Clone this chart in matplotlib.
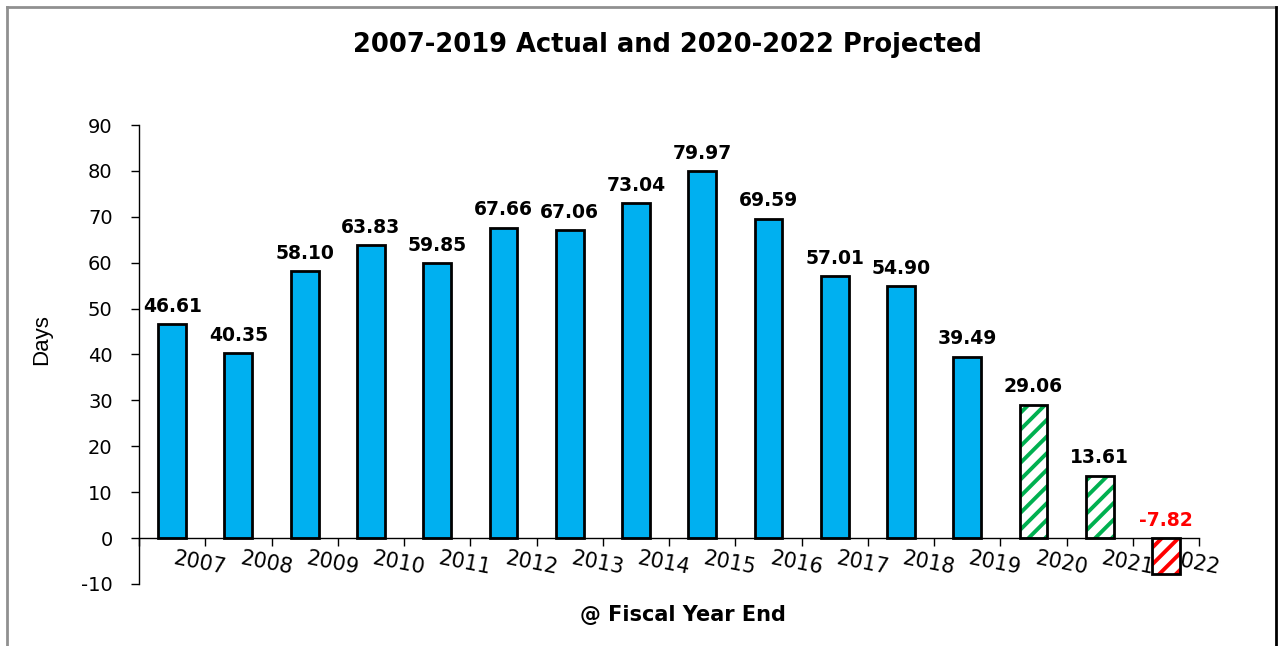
#!/usr/bin/env python3
"""Days metric by fiscal year: actual bars plus hatched projections."""

import matplotlib
matplotlib.use('Agg')
import matplotlib.pyplot as plt
from matplotlib import font_manager
from matplotlib.lines import Line2D

years = ['2007', '2008', '2009', '2010', '2011', '2012', '2013', '2014',
         '2015', '2016', '2017', '2018', '2019', '2020', '2021', '2022']
days = [46.61, 40.35, 58.10, 63.83, 59.85, 67.66, 67.06, 73.04,
        79.97, 69.59, 57.01, 54.90, 39.49, 29.06, 13.61, -7.82]
n_actual = 13  # 2007-2019 actual, the rest projected

BLUE = '#00B0F0'
GREEN = '#00B050'
RED = '#FF0000'


def narrow_family():
    try:
        font_manager.findfont('Liberation Sans Narrow', fallback_to_default=False)
        return 'Liberation Sans Narrow', 18
    except ValueError:
        return 'Liberation Sans', 16


def main():
    plt.rcParams['font.family'] = ['DejaVu Sans']
    plt.rcParams['hatch.linewidth'] = 2.8
    plt.rcParams['axes.unicode_minus'] = False

    fig = plt.figure(figsize=(12.79, 6.46), dpi=100)
    ax = fig.add_axes([0.1087, 0.096, 0.8288, 0.7105])

    x = list(range(len(years)))
    w = 0.42

    # actual years
    ax.bar(x[:n_actual], days[:n_actual], width=w, color=BLUE,
           edgecolor='black', linewidth=2.0, zorder=2)

    # projected years: hatch layer, then an outline on top
    for i in x[n_actual:]:
        hc = RED if days[i] < 0 else GREEN
        ax.bar(i, days[i], width=w, color='white', edgecolor=hc,
               hatch='//', linewidth=0, zorder=2)
        ax.bar(i, days[i], width=w, fill=False, edgecolor='black',
               linewidth=2.0, zorder=3)

    # value labels
    for i, v in enumerate(days):
        col = RED if v < 0 else 'black'
        y = max(v, 0)
        ax.annotate(f'{v:.2f}', (i, y), xytext=(0, 6), textcoords='offset points',
                    ha='center', va='bottom', fontsize=13.5, fontweight='bold',
                    color=col)

    ax.set_xlim(-0.5, len(years) - 0.5)
    ax.set_ylim(-10, 90)
    ax.set_yticks(range(-10, 100, 10))
    ax.tick_params(axis='y', labelsize=14, length=6, width=1.0, pad=13)

    # category axis sits on zero with ticks between categories
    ax.spines['bottom'].set_position(('data', 0))
    ax.spines['top'].set_visible(False)
    ax.spines['right'].set_visible(False)
    ax.set_xticks([i - 0.5 for i in range(len(years) + 1)])
    ax.set_xticklabels([])
    ax.tick_params(axis='x', length=6, width=1.0, direction='out')
    for sp in ('left', 'bottom'):
        ax.spines[sp].set_linewidth(1.0)

    # year labels sit under the bars, so the negative bar covers them
    for i, lab in enumerate(years):
        ax.text(i + 0.42, -5.4, lab, ha='center', va='center', fontsize=15,
                rotation=-11, rotation_mode='anchor', zorder=1)

    fam, size = narrow_family()
    fig.text(42 / 1279, 1 - 340 / 646, 'Days', rotation=90, ha='center',
             va='center', fontsize=size, family=fam)

    fig.text(0.522, 0.930, '2007-2019 Actual and 2020-2022 Projected',
             ha='center', va='center', fontsize=18.5, fontweight='bold')
    fig.text(0.534, 0.048, '@ Fiscal Year End', ha='center', va='center',
             fontsize=15, fontweight='bold')

    # chart area border
    fig.add_artist(Line2D([0.0055, 0.9977], [0.9895, 0.9895], color='#909090',
                          lw=2.0, transform=fig.transFigure))
    fig.add_artist(Line2D([0.0055, 0.0055], [0.0, 0.9895], color='#909090',
                          lw=2.0, transform=fig.transFigure))
    fig.add_artist(Line2D([0.9977, 0.9977], [0.0, 0.9895], color='black',
                          lw=2.0, transform=fig.transFigure))

    fig.savefig('out.png', dpi=100, facecolor='white')
    plt.close(fig)


if __name__ == '__main__':
    main()
